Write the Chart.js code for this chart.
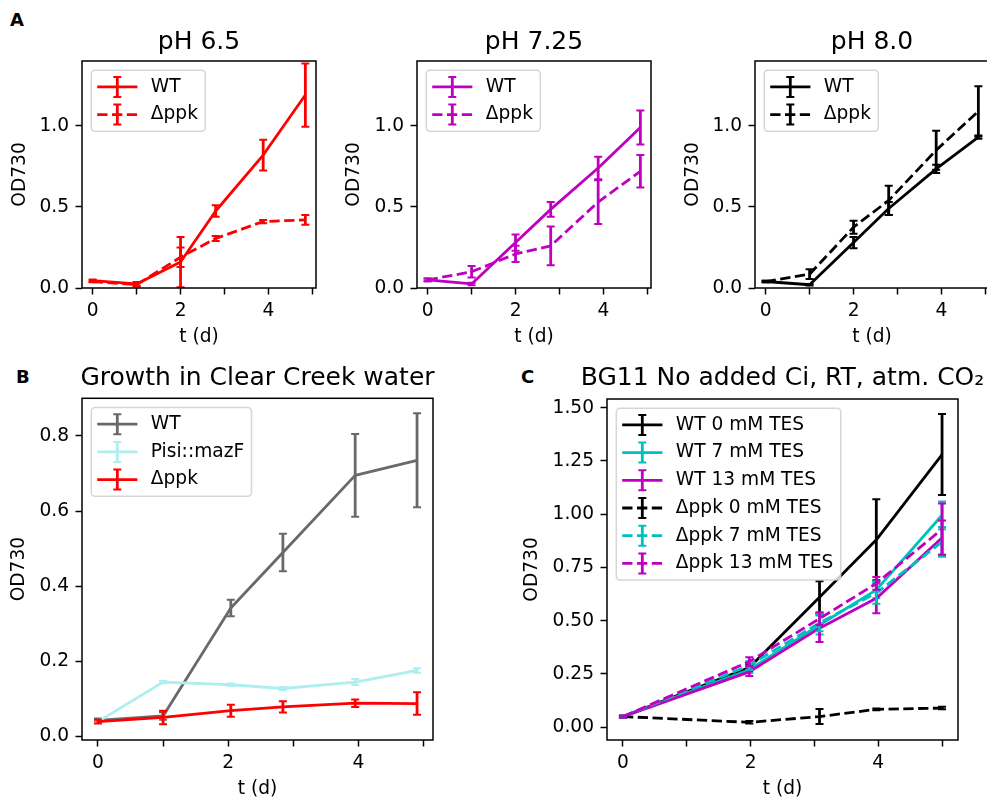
<!DOCTYPE html>
<html>
<head>
<meta charset="utf-8">
<title>OD730 growth curves</title>
<script src="https://cdn.jsdelivr.net/npm/chart.js@4.4.1/dist/chart.umd.min.js"></script>
<style>
  html, body { margin: 0; padding: 0; background: #fff; }
  body { position: relative; width: 987px; height: 798px; overflow: hidden; font-family: "DejaVu Sans", sans-serif; }
  canvas { position: absolute; }
  .tag { position: absolute; font: bold 18px/18px "DejaVu Sans", sans-serif; color: #000; }
</style>
</head>
<body>
<div class="tag" style="left:10px;top:11px">A</div>
<div class="tag" style="left:16px;top:368px">B</div>
<div class="tag" style="left:521px;top:368px">C</div>
<canvas id="phLow" width="398" height="350" style="left:0;top:0"></canvas>
<canvas id="phMid" width="408" height="350" style="left:330px;top:0"></canvas>
<canvas id="phHigh" width="424" height="350" style="left:660px;top:0"></canvas>
<canvas id="creek" width="515" height="450" style="left:0;top:360px"></canvas>
<canvas id="tes" width="565" height="450" style="left:500px;top:360px"></canvas>
<script>
Chart.defaults.font.family = '"DejaVu Sans", sans-serif';
Chart.defaults.color = '#000';

// x ticks shared by all panels (labels only on even days)
const dayTicks = [0, 1, 2, 3, 4, 5];
const dayLabels = ['0', '', '2', '', '4', ''];

// Panel A - growth at three pH values
const daysA = [0, 1, 2, 2.8, 3.88, 4.84];
const wtPh65 = [0.045, 0.025, 0.16, 0.475, 0.82, 1.19];
const wtPh65Err = [0.008, 0.012, 0.155, 0.035, 0.095, 0.195];
const ppkPh65 = [0.04, 0.02, 0.19, 0.305, 0.41, 0.42];
const ppkPh65Err = [0.005, 0.01, 0.06, 0.015, 0.01, 0.03];

const wtPh725 = [0.05, 0.025, 0.28, 0.485, 0.74, 0.99];
const wtPh725Err = [0.008, 0.008, 0.05, 0.045, 0.07, 0.105];
const ppkPh725 = [0.05, 0.10, 0.21, 0.26, 0.53, 0.72];
const ppkPh725Err = [0.008, 0.035, 0.05, 0.12, 0.135, 0.10];

const wtPh8 = [0.04, 0.02, 0.28, 0.49, 0.735, 0.93];
const wtPh8Err = [0.005, 0.005, 0.035, 0.04, 0.025, 0.01];
const ppkPh8 = [0.04, 0.085, 0.375, 0.54, 0.85, 1.09];
const ppkPh8Err = [0.005, 0.03, 0.04, 0.09, 0.12, 0.155];

const odTicksA = [0, 0.5, 1.0];
const odLabelsA = ['0.0', '0.5', '1.0'];

// Panel B - Clear Creek water
const daysB = [0, 1, 2.04, 2.84, 3.95, 4.9];
const wtCreek = [0.043, 0.055, 0.342, 0.49, 0.695, 0.735];
const wtCreekErr = [0.005, 0.01, 0.022, 0.05, 0.11, 0.125];
const mazfCreek = [0.04, 0.145, 0.138, 0.128, 0.145, 0.176];
const mazfCreekErr = [0.004, 0.003, 0.003, 0.004, 0.008, 0.006];
const ppkCreek = [0.04, 0.051, 0.069, 0.079, 0.089, 0.088];
const ppkCreekErr = [0.005, 0.018, 0.016, 0.015, 0.01, 0.03];

const odTicksB = [0, 0.2, 0.4, 0.6, 0.8];
const odLabelsB = ['0.0', '0.2', '0.4', '0.6', '0.8'];

// Panel C - BG11 with TES buffer
const daysC = [0, 1.98, 3.08, 3.97, 5.0];
const wtTes0 = [0.05, 0.28, 0.61, 0.88, 1.28];
const wtTes0Err = [0.004, 0.015, 0.075, 0.19, 0.19];
const wtTes7 = [0.05, 0.27, 0.48, 0.645, 0.995];
const wtTes7Err = [0.004, 0.015, 0.045, 0.04, 0.065];
const wtTes13 = [0.05, 0.26, 0.465, 0.605, 0.89];
const wtTes13Err = [0.004, 0.02, 0.065, 0.07, 0.08];
const ppkTes0 = [0.05, 0.023, 0.05, 0.084, 0.09];
const ppkTes0Err = [0.004, 0.006, 0.035, 0.004, 0.006];
const ppkTes7 = [0.05, 0.29, 0.49, 0.63, 0.87];
const ppkTes7Err = [0.004, 0.02, 0.04, 0.05, 0.07];
const ppkTes13 = [0.05, 0.308, 0.51, 0.675, 0.93];
const ppkTes13Err = [0.004, 0.02, 0.03, 0.03, 0.12];

const odTicksC = [0, 0.25, 0.5, 0.75, 1.0, 1.25, 1.5];
const odLabelsC = ['0.00', '0.25', '0.50', '0.75', '1.00', '1.25', '1.50'];

const LW = 2.8;
const DASH = [10.3, 4.5];

// vertical error bars with caps, drawn right after their own line
const errorBars = {
  id: 'errorBars',
  afterDatasetDraw(chart, args) {
    const ds = chart.data.datasets[args.index];
    if (!ds.errors) return;
    const {ctx, chartArea: a} = chart;
    const x = chart.scales.x, y = chart.scales.y;
    ctx.save();
    ctx.beginPath();
    ctx.rect(a.left, a.top, a.right - a.left, a.bottom - a.top);
    ctx.clip();
    ctx.strokeStyle = ds.borderColor;
    ds.data.forEach((p, k) => {
      const px = x.getPixelForValue(p.x);
      const lo = y.getPixelForValue(p.y - ds.errors[k]);
      const hi = y.getPixelForValue(p.y + ds.errors[k]);
      ctx.lineWidth = LW;
      ctx.beginPath();
      ctx.moveTo(px, lo);
      ctx.lineTo(px, hi);
      ctx.stroke();
      ctx.lineWidth = 2;
      ctx.beginPath();
      ctx.moveTo(px - 4, lo); ctx.lineTo(px + 4, lo);
      ctx.moveTo(px - 4, hi); ctx.lineTo(px + 4, hi);
      ctx.stroke();
    });
    ctx.restore();
  }
};

// four spines round the plot area
const frame = {
  id: 'frame',
  afterDatasetsDraw(chart) {
    const {ctx, chartArea: a} = chart;
    ctx.save();
    ctx.strokeStyle = '#000';
    ctx.lineWidth = 1.5;
    ctx.strokeRect(a.left, a.top, a.right - a.left, a.bottom - a.top);
    ctx.restore();
  }
};

// matplotlib style legend in the upper left corner
const mplLegend = {
  id: 'mplLegend',
  afterDraw(chart) {
    const {ctx, chartArea: a} = chart;
    const items = chart.data.datasets;
    const fs = 18.6, pad = 7.4, hl = 37.2, htp = 14.9, txtH = 18.4, gap = 9.3, r = 3.7;
    ctx.save();
    ctx.font = fs + 'px "DejaVu Sans", sans-serif';
    const tw = Math.max(...items.map(d => ctx.measureText(d.label).width));
    const x = a.left + 9.3, y = a.top + 9.3;
    const w = pad * 2 + hl + htp + tw;
    const h = pad * 2 + items.length * txtH + (items.length - 1) * gap;
    ctx.beginPath();
    ctx.moveTo(x + r, y);
    ctx.arcTo(x + w, y, x + w, y + h, r);
    ctx.arcTo(x + w, y + h, x, y + h, r);
    ctx.arcTo(x, y + h, x, y, r);
    ctx.arcTo(x, y, x + w, y, r);
    ctx.closePath();
    ctx.fillStyle = 'rgba(255,255,255,0.8)';
    ctx.fill();
    ctx.strokeStyle = 'rgba(204,204,204,0.8)';
    ctx.lineWidth = 1.5;
    ctx.stroke();
    items.forEach((d, i) => {
      const cy = y + pad + txtH / 2 + i * (txtH + gap);
      const x0 = x + pad - 1.5, x1 = x + pad + hl + 1.5, xm = (x0 + x1) / 2;
      ctx.strokeStyle = d.borderColor;
      ctx.lineWidth = LW;
      ctx.setLineDash(d.borderDash || []);
      ctx.beginPath();
      ctx.moveTo(x0, cy);
      ctx.lineTo(x1, cy);
      ctx.stroke();
      ctx.setLineDash([]);
      ctx.beginPath();
      ctx.moveTo(xm, cy - 10);
      ctx.lineTo(xm, cy + 10);
      ctx.stroke();
      ctx.lineWidth = 2;
      ctx.beginPath();
      ctx.moveTo(xm - 4, cy - 10); ctx.lineTo(xm + 4, cy - 10);
      ctx.moveTo(xm - 4, cy + 10); ctx.lineTo(xm + 4, cy + 10);
      ctx.stroke();
      ctx.fillStyle = '#000';
      ctx.textBaseline = 'middle';
      ctx.textAlign = 'left';
      ctx.fillText(d.label, x + pad + hl + htp, cy);
    });
    ctx.restore();
  }
};

function panel(canvasId, p) {
  const tickGrid = {drawOnChartArea: false, tickLength: 6.5, tickWidth: 1.5, tickColor: '#000'};
  return new Chart(document.getElementById(canvasId), {
    type: 'line',
    data: {
      datasets: p.series.map((s, i) => ({
        label: s.label,
        data: p.days.map((d, k) => ({x: d, y: s.y[k]})),
        errors: s.err,
        borderColor: s.color,
        borderWidth: LW,
        borderDash: s.dash ? DASH : [],
        borderJoinStyle: 'round',
        pointRadius: 0,
        tension: 0,
        fill: false,
        xAxisID: 'x',
        yAxisID: 'y',
        order: -i
      }))
    },
    options: {
      responsive: false,
      animation: false,
      devicePixelRatio: 1,
      events: [],
      layout: {padding: 0},
      plugins: {
        legend: {display: false},
        tooltip: {enabled: false},
        title: {
          display: true,
          text: p.title,
          color: '#000',
          font: {size: 25, weight: 'normal'},
          padding: {top: p.titleTop, bottom: p.titleBottom}
        }
      },
      scales: {
        x: {
          type: 'linear',
          position: 'bottom',
          min: p.xMin,
          max: p.xMax,
          afterBuildTicks: s => { s.ticks = dayTicks.map(v => ({value: v})); },
          afterFit: s => { s.height = p.xAxisH; },
          ticks: {autoSkip: false, maxRotation: 0, minRotation: 0, padding: 5.5, font: {size: 18.6},
                  callback: (v, i) => dayLabels[i]},
          grid: tickGrid,
          border: {display: false},
          title: {display: true, text: 't (d)', font: {size: 18.6}, padding: {top: 0, bottom: p.xTitlePad}}
        },
        y: {
          type: 'linear',
          position: 'left',
          min: p.yMin,
          max: p.yMax,
          afterBuildTicks: s => { s.ticks = p.yTicks.map(v => ({value: v})); },
          afterFit: s => { s.width = p.yAxisW; },
          ticks: {autoSkip: false, padding: 6.5, font: {size: 18.6},
                  callback: (v, i) => p.yLabels[i]},
          grid: tickGrid,
          border: {display: false},
          title: {display: true, text: 'OD730', font: {size: 18.6}, padding: {top: p.yTitlePad, bottom: 0}}
        },
        // empty right axis so the plot area (and title) sits centred in the canvas
        pad: {
          type: 'linear',
          position: 'right',
          afterFit: s => { s.width = p.yAxisW; },
          ticks: {display: false},
          grid: {display: false},
          border: {display: false}
        }
      }
    },
    plugins: [errorBars, frame, mplLegend]
  });
}

const topRow = {days: daysA, xMin: -0.242, xMax: 5.082, yMin: 0, yMax: 1.40,
  yTicks: odTicksA, yLabels: odLabelsA, titleTop: 27.6, titleBottom: 3.4, xAxisH: 62, xTitlePad: 1.55};

panel('phLow', Object.assign({}, topRow, {
  title: 'pH 6.5', yAxisW: 82, yTitlePad: 8.85,
  series: [
    {label: 'WT', y: wtPh65, err: wtPh65Err, color: '#ff0000'},
    {label: 'Δppk', y: ppkPh65, err: ppkPh65Err, color: '#ff0000', dash: true}
  ]
}));

panel('phMid', Object.assign({}, topRow, {
  title: 'pH 7.25', yAxisW: 87, yTitlePad: 13.35,
  series: [
    {label: 'WT', y: wtPh725, err: wtPh725Err, color: '#bf00bf'},
    {label: 'Δppk', y: ppkPh725, err: ppkPh725Err, color: '#bf00bf', dash: true}
  ]
}));

panel('phHigh', Object.assign({}, topRow, {
  title: 'pH 8.0', yAxisW: 95, yTitlePad: 22.15,
  series: [
    {label: 'WT', y: wtPh8, err: wtPh8Err, color: '#000000'},
    {label: 'Δppk', y: ppkPh8, err: ppkPh8Err, color: '#000000', dash: true}
  ]
}));

panel('creek', {
  title: 'Growth in Clear Creek water', days: daysB,
  xMin: -0.245, xMax: 5.145, yMin: -0.009, yMax: 0.90,
  yTicks: odTicksB, yLabels: odLabelsB,
  titleTop: 3.6, titleBottom: 4.7, xAxisH: 70, xTitlePad: 9.54, yAxisW: 82, yTitlePad: 8.35,
  series: [
    {label: 'WT', y: wtCreek, err: wtCreekErr, color: '#696969'},
    {label: 'Pisi::mazF', y: mazfCreek, err: mazfCreekErr, color: '#afeeee'},
    {label: 'Δppk', y: ppkCreek, err: ppkCreekErr, color: '#ff0000'}
  ]
});

panel('tes', {
  title: 'BG11 No added Ci, RT, atm. CO₂', days: daysC,
  xMin: -0.25, xMax: 5.25, yMin: -0.06, yMax: 1.541,
  yTicks: odTicksC, yLabels: odLabelsC,
  titleTop: 3.6, titleBottom: 5.4, xAxisH: 70, xTitlePad: 9.54, yAxisW: 107, yTitlePad: 21.35,
  series: [
    {label: 'WT 0 mM TES', y: wtTes0, err: wtTes0Err, color: '#000000'},
    {label: 'WT 7 mM TES', y: wtTes7, err: wtTes7Err, color: '#00bfbf'},
    {label: 'WT 13 mM TES', y: wtTes13, err: wtTes13Err, color: '#bf00bf'},
    {label: 'Δppk 0 mM TES', y: ppkTes0, err: ppkTes0Err, color: '#000000', dash: true},
    {label: 'Δppk 7 mM TES', y: ppkTes7, err: ppkTes7Err, color: '#00bfbf', dash: true},
    {label: 'Δppk 13 mM TES', y: ppkTes13, err: ppkTes13Err, color: '#bf00bf', dash: true}
  ]
});
</script>
</body>
</html>
